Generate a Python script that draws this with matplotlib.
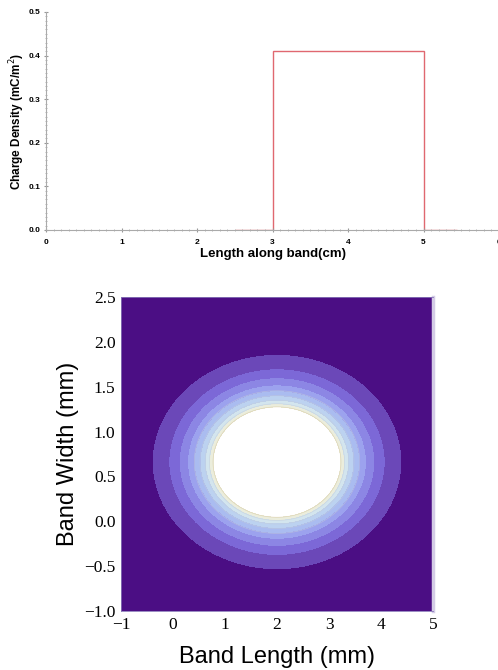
import matplotlib
matplotlib.use("Agg")
import matplotlib.pyplot as plt
from matplotlib.ticker import MultipleLocator
import numpy as np

# top panel: charge density step profile
band_edges = [2.5, 3.0, 5.0, 5.45]      # cm
charge_density = [0.0, 0.41, 0.0]       # mC/m^2

# bottom panel: elliptical contour bands (x semi-axis of each boundary, mm)
ring_center = (2.0, 0.66)
ring_aspect = 0.5
ring_radii = [1.23, 1.30, 1.38, 1.48, 1.59, 1.72, 1.88, 2.08, 2.40]
band_colors = ["#ffffff", "#ebeddc", "#d3e5ee", "#bcd2f0", "#aabcf0",
               "#9ca2ee", "#8c86e4", "#7c68d7", "#6b48b8", "#4b0e84"]

fig = plt.figure(figsize=(4.98, 6.70), dpi=100)

# ---- top plot
ax1 = fig.add_axes([46 / 498, 1 - 230 / 670, 453 / 498, 218 / 670])
ax1.stairs(charge_density, band_edges, color="#e06870", linewidth=1.0)
ax1.set_xlim(0, 6)
ax1.set_ylim(0, 0.5)
ax1.xaxis.set_major_locator(MultipleLocator(1))
ax1.xaxis.set_minor_locator(MultipleLocator(0.1))
ax1.yaxis.set_major_locator(MultipleLocator(0.1))
ax1.yaxis.set_minor_locator(MultipleLocator(0.01))
ax1.xaxis.set_major_formatter(plt.FuncFormatter(lambda v, p: f"{v:.0f}"))
ax1.yaxis.set_major_formatter(plt.FuncFormatter(lambda v, p: f"{v:.1f}"))
for s in ("top", "right"):
    ax1.spines[s].set_visible(False)
for s in ("left", "bottom"):
    ax1.spines[s].set_color("#aaaaaa")
    ax1.spines[s].set_linewidth(0.8)
ax1.tick_params(which="major", length=2.5, width=0.8, color="#999999",
                direction="inout", labelsize=6, pad=3)
ax1.tick_params(axis="x", which="major", pad=5)
ax1.tick_params(which="minor", length=1.5, width=0.6, color="#aaaaaa",
                direction="inout")
for lab in ax1.get_xticklabels() + ax1.get_yticklabels():
    lab.set_fontweight("bold")
    lab.set_family("Liberation Sans")
ax1.set_xlabel("Length along band(cm)", fontsize=9.5, fontweight="bold",
               family="Liberation Sans", labelpad=2)
ax1.set_ylabel("Charge Density (mC/m$^2$)", fontsize=8.5, fontweight="bold",
               family="Liberation Sans", labelpad=1)

# ---- bottom contour plot
ax2 = fig.add_axes([121 / 498, 1 - 611 / 670, 312 / 498, 314 / 670])
xs = np.linspace(-1, 5, 600)
ys = np.linspace(-1, 2.5, 500)
X, Y = np.meshgrid(xs, ys)
R = np.sqrt((X - ring_center[0]) ** 2 + ((Y - ring_center[1]) / ring_aspect) ** 2)
levels = [0] + ring_radii + [R.max() + 1]
ax2.contourf(X, Y, R, levels=levels, colors=band_colors)
ax2.contour(X, Y, R, levels=ring_radii[:5], colors=["#d6c59a"] + ["#c4cbd8"] * 4,
            linewidths=0.5, alpha=0.6)
ax2.set_xlim(-1, 5)
ax2.set_ylim(-1, 2.5)
ax2.set_xticks(range(-1, 6))
ax2.set_yticks(np.arange(-1, 2.51, 0.5))
ax2.xaxis.set_major_formatter(plt.FuncFormatter(lambda v, p: f"{v:.0f}".replace("-", "\u2212")))
ax2.yaxis.set_major_formatter(plt.FuncFormatter(lambda v, p: f"{v:.1f}".replace("-", "\u2212")))
ax2.tick_params(length=0, labelsize=12.5, pad=4)
for lab in ax2.get_xticklabels() + ax2.get_yticklabels():
    lab.set_family("Liberation Serif")
for s in ("left", "bottom", "top"):
    ax2.spines[s].set_color("#8878b8")
    ax2.spines[s].set_linewidth(0.6)
ax2.spines["right"].set_color("#d4cce6")
ax2.spines["right"].set_linewidth(2.5)
ax2.set_xlabel("Band Length (mm)", fontsize=17, family="Liberation Sans", labelpad=10)
ax2.set_ylabel("Band Width (mm)", fontsize=17, family="Liberation Sans", labelpad=4)

fig.savefig("out.png", dpi=100, facecolor="white")
